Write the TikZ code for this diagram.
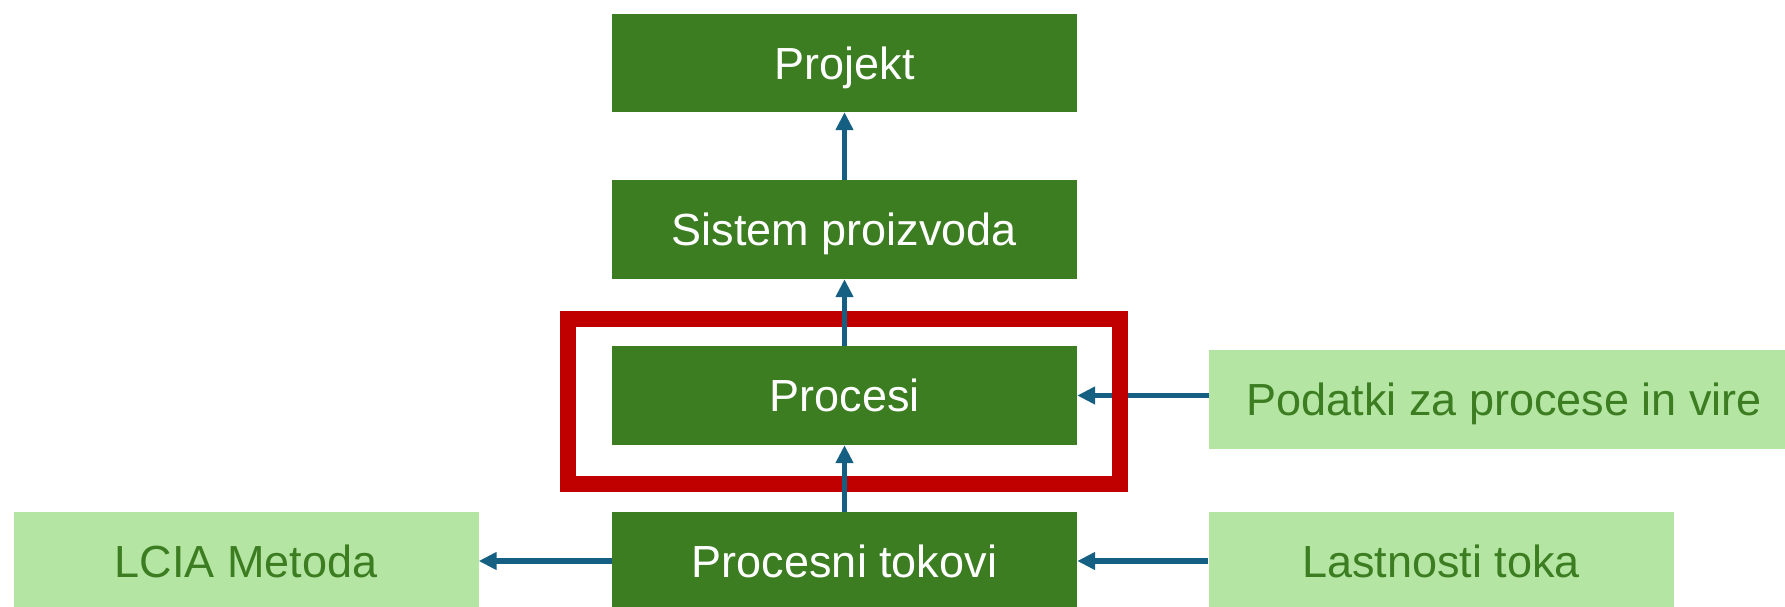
\documentclass[tikz,border=0pt]{standalone}
\usepackage{fontspec}
\setmainfont{Liberation Sans}
\usetikzlibrary{arrows.meta}
\definecolor{darkgr}{HTML}{3C7D22}
\definecolor{lightgr}{HTML}{B4E5A2}
\definecolor{arrowc}{HTML}{156082}
\definecolor{framered}{HTML}{C00000}
\tikzset{
  basebox/.style={rectangle, inner sep=0pt, minimum width=465pt, minimum height=99pt,
    text height=32pt, text depth=0pt,
    font=\fontsize{45}{54}\selectfont},
  darkbox/.style={basebox, fill=darkgr, text=white},
  lightbox/.style={basebox, fill=lightgr, text=darkgr},
  conn/.style={draw=arrowc, line width=5.5pt, -{Triangle[length=18pt,width=17pt]}},
  redframe/.style={rectangle, draw=framered, line width=16pt, inner sep=0pt,
    minimum width=552pt, minimum height=165pt}
}
\begin{document}
\begin{tikzpicture}[x=1pt,y=-1pt]
\useasboundingbox (0,0) rectangle (1785,606);
\node[darkbox, minimum height=98pt] (proj) at (844.5,63) {Projekt};
\node[darkbox] (sist) at (844.5,229.5) {Sistem proizvoda};
\node[darkbox] (proc) at (844.5,395.5) {Procesi};
\node[darkbox, minimum height=98pt] (tok) at (844.5,561) {Procesni tokovi};
\node[lightbox, minimum width=590pt, anchor=west] (pod) at (1209,399.5) {Podatki za procese in vire};
\node[lightbox, minimum height=98pt] (lcia) at (246,561) {LCIA Metoda};
\node[lightbox, minimum height=98pt] (last) at (1441,561) {Lastnosti toka};
% horizontal connectors (below the frame)
\draw[conn] (pod.west |- proc.east) -- (proc.east);
\draw[conn] (last.west) -- (tok.east);
\draw[conn] (tok.west) -- (lcia.east);
% frame
\node[redframe] (focus) at (844,401.5) {};
% vertical connectors (above the frame)
\draw[conn] (sist.north) -- (proj.south);
\draw[conn] (proc.north) -- (sist.south);
\draw[conn] (tok.north) -- (proc.south);
\end{tikzpicture}
\end{document}
